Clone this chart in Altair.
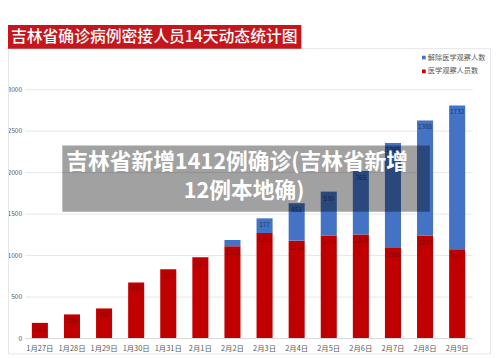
import altair as alt
import pandas as pd

dates = ["1月27日", "1月28日", "1月29日", "1月30日", "1月31日", "2月1日", "2月2日",
         "2月3日", "2月4日", "2月5日", "2月6日", "2月7日", "2月8日", "2月9日"]
observing = [183, 285, 357, 670, 829, 975, 1106, 1266, 1174, 1235, 1248, 1085, 1233, 1070]
released = [0, 0, 0, 0, 0, 0, 76, 177, 451, 530, 765, 1265, 1388, 1732]
y_ticks = [0, 500, 1000, 1500, 2000, 2500, 3000]
title_text = "吉林省确诊病例密接人员14天动态统计图"
legend_released = "解除医学观察人数"
legend_observing = "医学观察人员数"
overlay_line1 = "吉林省新增1412例确诊(吉林省新增"
overlay_line2 = "12例本地确)"

RED = "#c00000"
BLUE = "#4472c4"
FONT = "Noto Sans CJK SC"
GRAY = "#595959"

df = pd.DataFrame({"date": dates, "obs": observing, "rel": released})
one = pd.DataFrame({"k": [0]})

# plot area: image x 25..478, y 88..340 ; svg origin at image (8, 8)
x_enc = alt.X("date:N", sort=dates,
              scale=alt.Scale(paddingInner=0.5, paddingOuter=0.22),
              axis=alt.Axis(title=None, labelAngle=0, labelFont=FONT, labelFontSize=7.5,
                            labelColor=GRAY, ticks=False, domainColor="#d9d9d9",
                            labelPadding=7))
y_scale = alt.Scale(domain=[0, 3000], nice=False)

base = alt.Chart(df).transform_calculate(total="datum.obs + datum.rel")

red_bars = base.mark_bar(color=RED).encode(
    x=x_enc,
    y=alt.Y("obs:Q", scale=y_scale,
            axis=alt.Axis(values=y_ticks, format="d", title=None, labelFont=FONT,
                          labelFontSize=6.8, labelColor=GRAY, domain=False, ticks=False,
                          labelPadding=3, gridColor="#e6e6e6")),
)
blue_bars = base.transform_filter("datum.rel > 0").mark_bar(color=BLUE).encode(
    x=x_enc, y=alt.Y("obs:Q", scale=y_scale), y2="total:Q"
)
red_labels = base.mark_text(font=FONT, fontSize=6.5, color="#7d0a0a", baseline="top", dy=4).encode(
    x=x_enc, y=alt.Y("obs:Q", scale=y_scale), text=alt.Text("obs:Q", format="d")
)
blue_labels = base.transform_filter("datum.rel >= 100").mark_text(
    font=FONT, fontSize=6.5, color="#203864", baseline="top", dy=4).encode(
    x=x_enc, y=alt.Y("total:Q", scale=y_scale), text=alt.Text("rel:Q", format="d")
)

frame = alt.Chart(one).mark_rect(filled=False, stroke="#e6e6e6", strokeWidth=1).encode(
    x=alt.value(-16.5), x2=alt.value(471.5), y=alt.value(-41), y2=alt.value(268)
)
banner = alt.Chart(one).mark_rect(fill="#c4161c").encode(
    x=alt.value(-17), x2=alt.value(280), y=alt.value(-65), y2=alt.value(-41)
)
title = alt.Chart(one).mark_text(align="left", baseline="middle", font=FONT, fontSize=16,
                                 fontWeight=500, color="white").encode(
    x=alt.value(-14), y=alt.value(-53), text=alt.value(title_text)
)
leg_sq1 = alt.Chart(one).mark_square(color=BLUE, size=14, opacity=1).encode(
    x=alt.value(404), y=alt.value(-32))
leg_sq2 = alt.Chart(one).mark_square(color=RED, size=14, opacity=1).encode(
    x=alt.value(404), y=alt.value(-18))
leg_t1 = alt.Chart(one).mark_text(align="left", baseline="middle", font=FONT, fontSize=7.3,
                                  color=GRAY).encode(
    x=alt.value(408), y=alt.value(-32), text=alt.value(legend_released))
leg_t2 = alt.Chart(one).mark_text(align="left", baseline="middle", font=FONT, fontSize=7.3,
                                  color=GRAY).encode(
    x=alt.value(408), y=alt.value(-18), text=alt.value(legend_observing))

overlay = alt.Chart(one).mark_rect(fill="black", opacity=0.37).encode(
    x=alt.value(38), x2=alt.value(410), y=alt.value(57), y2=alt.value(124)
)
ov1 = alt.Chart(one).mark_text(align="center", baseline="middle", font=FONT, fontSize=22,
                               fontWeight="bold", color="white").encode(
    x=alt.value(215), y=alt.value(74), text=alt.value(overlay_line1))
ov2 = alt.Chart(one).mark_text(align="center", baseline="middle", font=FONT, fontSize=22,
                               fontWeight="bold", color="white").encode(
    x=alt.value(222), y=alt.value(103), text=alt.value(overlay_line2))

chart = alt.layer(
    frame, banner, title, leg_sq1, leg_sq2, leg_t1, leg_t2,
    red_bars, blue_bars, red_labels, blue_labels, overlay, ov1, ov2
).properties(
    width=453, height=252,
    autosize=alt.AutoSizeParams(type="none"),
    padding={"left": 17, "top": 80, "right": 20, "bottom": 16},
    background="white",
).configure_view(stroke=None)

chart.save("out.html", embed_options={"renderer": "svg", "actions": False})
